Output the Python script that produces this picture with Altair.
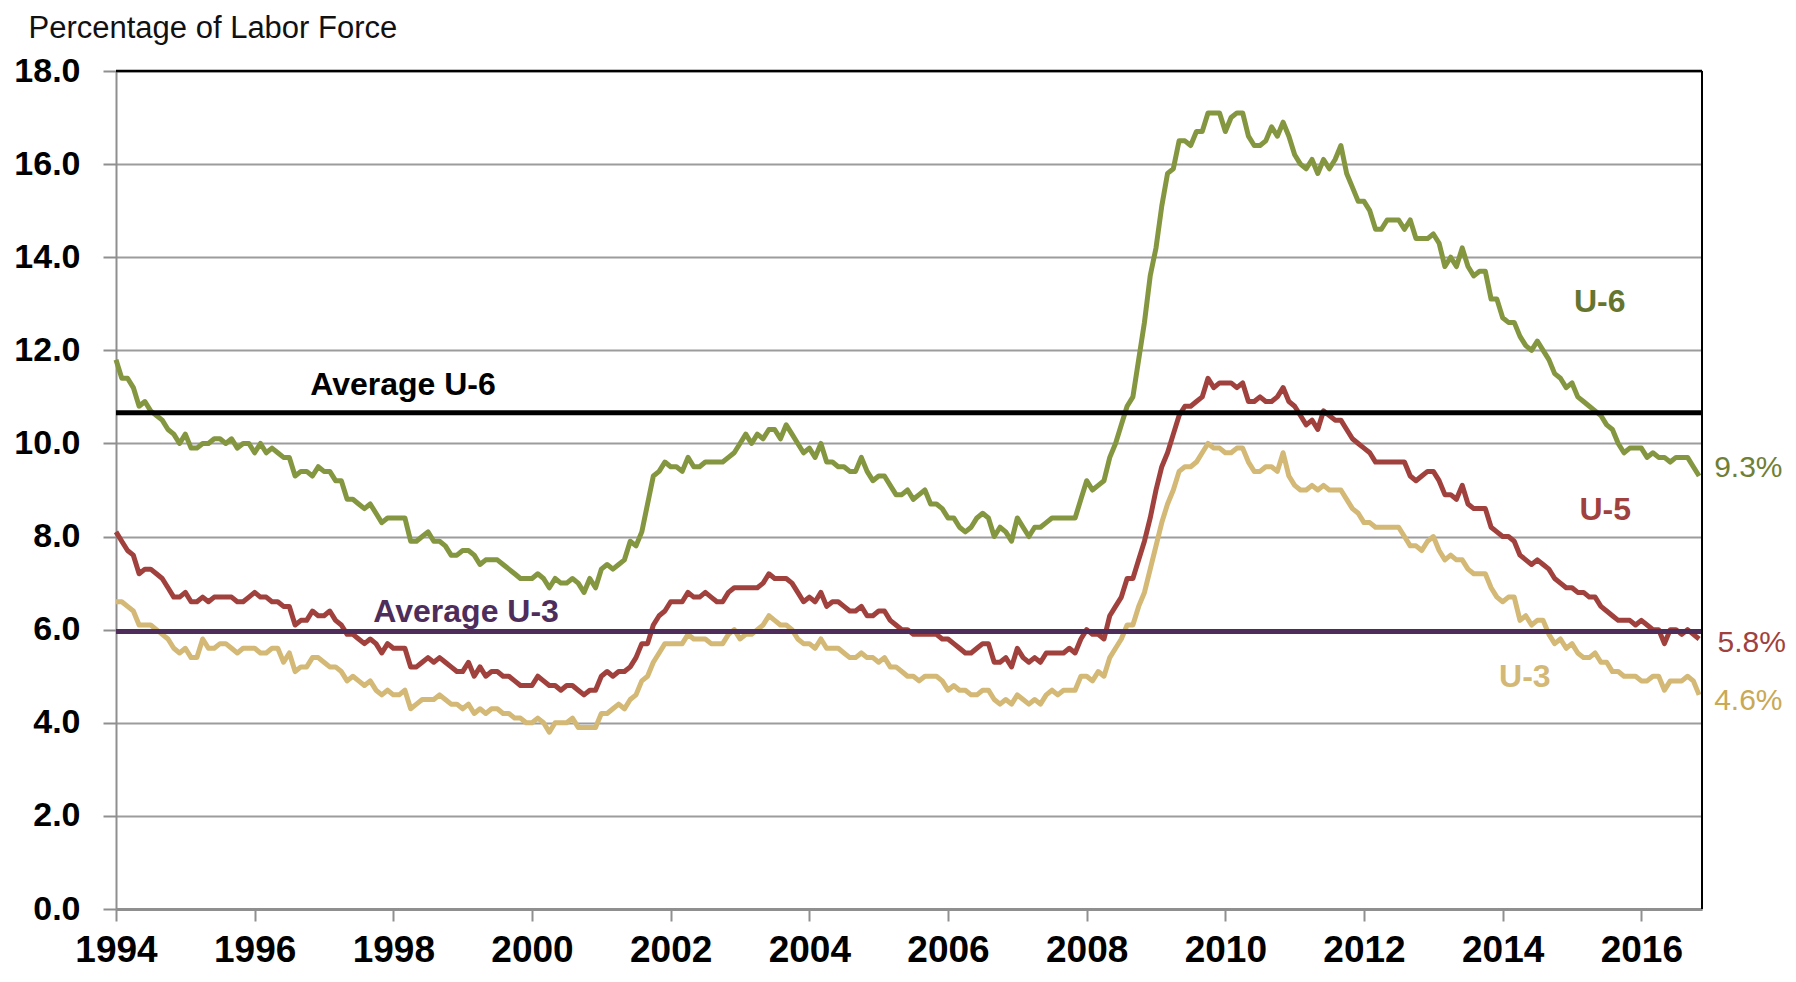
import altair as alt
import pandas as pd

# ---------------- data (monthly, Jan 1994 - Nov 2016) ----------------
U3 = [
    6.6,6.6,6.5,6.4,6.1,6.1,6.1,6.0,5.9,5.8,5.6,5.5,
    5.6,5.4,5.4,5.8,5.6,5.6,5.7,5.7,5.6,5.5,5.6,5.6,
    5.6,5.5,5.5,5.6,5.6,5.3,5.5,5.1,5.2,5.2,5.4,5.4,
    5.3,5.2,5.2,5.1,4.9,5.0,4.9,4.8,4.9,4.7,4.6,4.7,
    4.6,4.6,4.7,4.3,4.4,4.5,4.5,4.5,4.6,4.5,4.4,4.4,
    4.3,4.4,4.2,4.3,4.2,4.3,4.3,4.2,4.2,4.1,4.1,4.0,
    4.0,4.1,4.0,3.8,4.0,4.0,4.0,4.1,3.9,3.9,3.9,3.9,
    4.2,4.2,4.3,4.4,4.3,4.5,4.6,4.9,5.0,5.3,5.5,5.7,
    5.7,5.7,5.7,5.9,5.8,5.8,5.8,5.7,5.7,5.7,5.9,6.0,
    5.8,5.9,5.9,6.0,6.1,6.3,6.2,6.1,6.1,6.0,5.8,5.7,
    5.7,5.6,5.8,5.6,5.6,5.6,5.5,5.4,5.4,5.5,5.4,5.4,
    5.3,5.4,5.2,5.2,5.1,5.0,5.0,4.9,5.0,5.0,5.0,4.9,
    4.7,4.8,4.7,4.7,4.6,4.6,4.7,4.7,4.5,4.4,4.5,4.4,
    4.6,4.5,4.4,4.5,4.4,4.6,4.7,4.6,4.7,4.7,4.7,5.0,
    5.0,4.9,5.1,5.0,5.4,5.6,5.8,6.1,6.1,6.5,6.8,7.3,
    7.8,8.3,8.7,9.0,9.4,9.5,9.5,9.6,9.8,10.0,9.9,9.9,
    9.8,9.8,9.9,9.9,9.6,9.4,9.4,9.5,9.5,9.4,9.8,9.3,
    9.1,9.0,9.0,9.1,9.0,9.1,9.0,9.0,9.0,8.8,8.6,8.5,
    8.3,8.3,8.2,8.2,8.2,8.2,8.2,8.0,7.8,7.8,7.7,7.9,
    8.0,7.7,7.5,7.6,7.5,7.5,7.3,7.2,7.2,7.2,6.9,6.7,
    6.6,6.7,6.7,6.2,6.3,6.1,6.2,6.2,5.9,5.7,5.8,5.6,
    5.7,5.5,5.4,5.4,5.5,5.3,5.3,5.1,5.1,5.0,5.0,5.0,
    4.9,4.9,5.0,5.0,4.7,4.9,4.9,4.9,5.0,4.9,4.6,
]
U5 = [
    8.1,7.9,7.7,7.6,7.2,7.3,7.3,7.2,7.1,6.9,6.7,6.7,
    6.8,6.6,6.6,6.7,6.6,6.7,6.7,6.7,6.7,6.6,6.6,6.7,
    6.8,6.7,6.7,6.6,6.6,6.5,6.5,6.1,6.2,6.2,6.4,6.3,
    6.3,6.4,6.2,6.1,5.9,5.9,5.8,5.7,5.8,5.7,5.5,5.7,
    5.6,5.6,5.6,5.2,5.2,5.3,5.4,5.3,5.4,5.3,5.2,5.1,
    5.1,5.3,5.0,5.2,5.0,5.1,5.1,5.0,5.0,4.9,4.8,4.8,
    4.8,5.0,4.9,4.8,4.8,4.7,4.8,4.8,4.7,4.6,4.7,4.7,
    5.0,5.1,5.0,5.1,5.1,5.2,5.4,5.7,5.7,6.1,6.3,6.4,
    6.6,6.6,6.6,6.8,6.7,6.7,6.8,6.7,6.6,6.6,6.8,6.9,
    6.9,6.9,6.9,6.9,7.0,7.2,7.1,7.1,7.1,7.0,6.8,6.6,
    6.7,6.6,6.8,6.5,6.6,6.6,6.5,6.4,6.4,6.5,6.3,6.3,
    6.4,6.4,6.2,6.1,6.0,6.0,5.9,5.9,5.9,5.9,5.9,5.8,
    5.8,5.7,5.6,5.5,5.5,5.6,5.7,5.7,5.3,5.3,5.4,5.2,
    5.6,5.4,5.3,5.4,5.3,5.5,5.5,5.5,5.5,5.6,5.5,5.8,
    6.0,5.9,5.9,5.8,6.3,6.5,6.7,7.1,7.1,7.5,7.9,8.4,
    9.0,9.5,9.8,10.2,10.6,10.8,10.8,10.9,11.0,11.4,11.2,11.3,
    11.3,11.3,11.2,11.3,10.9,10.9,11.0,10.9,10.9,11.0,11.2,10.9,
    10.8,10.6,10.4,10.5,10.3,10.7,10.6,10.5,10.5,10.3,10.1,10.0,
    9.9,9.8,9.6,9.6,9.6,9.6,9.6,9.6,9.3,9.2,9.3,9.4,
    9.4,9.2,8.9,8.9,8.8,9.1,8.7,8.6,8.6,8.6,8.2,8.1,
    8.0,8.0,7.9,7.6,7.5,7.4,7.5,7.4,7.3,7.1,7.0,6.9,
    6.9,6.8,6.8,6.7,6.7,6.5,6.4,6.3,6.2,6.2,6.2,6.1,
    6.2,6.1,6.0,6.0,5.7,6.0,6.0,5.9,6.0,5.9,5.8,
]
U6 = [
    11.8,11.4,11.4,11.2,10.8,10.9,10.7,10.6,10.5,10.3,10.2,10.0,
    10.2,9.9,9.9,10.0,10.0,10.1,10.1,10.0,10.1,9.9,10.0,10.0,
    9.8,10.0,9.8,9.9,9.8,9.7,9.7,9.3,9.4,9.4,9.3,9.5,
    9.4,9.4,9.2,9.2,8.8,8.8,8.7,8.6,8.7,8.5,8.3,8.4,
    8.4,8.4,8.4,7.9,7.9,8.0,8.1,7.9,7.9,7.8,7.6,7.6,
    7.7,7.7,7.6,7.4,7.5,7.5,7.5,7.4,7.3,7.2,7.1,7.1,
    7.1,7.2,7.1,6.9,7.1,7.0,7.0,7.1,7.0,6.8,7.1,6.9,
    7.3,7.4,7.3,7.4,7.5,7.9,7.8,8.1,8.7,9.3,9.4,9.6,
    9.5,9.5,9.4,9.7,9.5,9.5,9.6,9.6,9.6,9.6,9.7,9.8,
    10.0,10.2,10.0,10.2,10.1,10.3,10.3,10.1,10.4,10.2,10.0,9.8,
    9.9,9.7,10.0,9.6,9.6,9.5,9.5,9.4,9.4,9.7,9.4,9.2,
    9.3,9.3,9.1,8.9,8.9,9.0,8.8,8.9,9.0,8.7,8.7,8.6,
    8.4,8.4,8.2,8.1,8.2,8.4,8.5,8.4,8.0,8.2,8.1,7.9,
    8.4,8.2,8.0,8.2,8.2,8.3,8.4,8.4,8.4,8.4,8.4,8.8,
    9.2,9.0,9.1,9.2,9.7,10.0,10.4,10.8,11.0,11.8,12.6,13.6,
    14.2,15.1,15.8,15.9,16.5,16.5,16.4,16.7,16.7,17.1,17.1,17.1,
    16.7,17.0,17.1,17.1,16.6,16.4,16.4,16.5,16.8,16.6,16.9,16.6,
    16.2,16.0,15.9,16.1,15.8,16.1,15.9,16.1,16.4,15.8,15.5,15.2,
    15.2,15.0,14.6,14.6,14.8,14.8,14.8,14.6,14.8,14.4,14.4,14.4,
    14.5,14.3,13.8,14.0,13.8,14.2,13.8,13.6,13.7,13.7,13.1,13.1,
    12.7,12.6,12.6,12.3,12.1,12.0,12.2,12.0,11.8,11.5,11.4,11.2,
    11.3,11.0,10.9,10.8,10.7,10.6,10.4,10.3,10.0,9.8,9.9,9.9,
    9.9,9.7,9.8,9.7,9.7,9.6,9.7,9.7,9.7,9.5,9.3,
]
AVG_U6 = 10.66
AVG_U3 = 5.96
YEAR_TICKS = list(range(1994, 2017, 2))
Y_TICKS = list(range(0, 19, 2))
SERIES = ["U-6", "U-5", "U-3"]

# ---------------- styling ----------------
FONT = "Liberation Sans, Arial, sans-serif"
LINE_COLORS = {"U-6": "#84963F", "U-5": "#A0413D", "U-3": "#D3B876"}
X_MIN, X_MAX = 1994, 2016.875
GRAY = "#8f8f8f"

dates = pd.date_range("1994-01-01", periods=len(U3), freq="MS")
t = [d.year + (d.month - 1) / 12 for d in dates]
df = pd.concat([
    pd.DataFrame({"t": t, "v": U6, "s": "U-6"}),
    pd.DataFrame({"t": t, "v": U5, "s": "U-5"}),
    pd.DataFrame({"t": t, "v": U3, "s": "U-3"}),
])

x_enc = alt.X("t:Q",
    scale=alt.Scale(domain=[X_MIN, X_MAX], nice=False, zero=False),
    axis=alt.Axis(values=YEAR_TICKS, format="d", title=None, grid=False,
                  labelFont=FONT, labelFontSize=37, labelFontWeight="bold",
                  labelColor="black", labelPadding=40, labelBaseline="alphabetic",
                  labelFlush=False,
                  tickSize=12, tickColor=GRAY, tickWidth=2,
                  domainColor=GRAY, domainWidth=3))
y_enc = alt.Y("v:Q",
    scale=alt.Scale(domain=[0, 18], nice=False),
    axis=alt.Axis(values=Y_TICKS, format=".1f",
                  labelFont=FONT, labelFontSize=34, labelFontWeight="bold",
                  labelColor="black", labelPadding=23,
                  tickSize=13, tickColor=GRAY, tickWidth=2,
                  domainColor=GRAY, domainWidth=2,
                  grid=True, gridColor="#9c9c9c", gridWidth=2,
                  title="Percentage of Labor Force", titleAngle=0,
                  titleX=-88, titleY=-34, titleAlign="left",
                  titleBaseline="alphabetic", titleFont=FONT,
                  titleFontSize=31, titleFontWeight="normal",
                  titleColor="#111111"))

lines = alt.Chart(df).mark_line(strokeWidth=5, strokeJoin="round").encode(
    x=x_enc, y=y_enc,
    color=alt.Color("s:N", scale=alt.Scale(domain=SERIES,
                    range=[LINE_COLORS[s] for s in SERIES]), legend=None),
    order=alt.Order("t:Q"),
)

anchor = alt.Chart(pd.DataFrame({"a": [0]}))
top_rule = anchor.mark_rule(color="black", strokeWidth=2.5).encode(y=alt.datum(18))
right_rule = anchor.mark_rule(color="black", strokeWidth=2).encode(x=alt.datum(X_MAX))
avg6 = anchor.mark_rule(color="black", strokeWidth=5).encode(y=alt.datum(AVG_U6))
avg3 = anchor.mark_rule(color="#4E2D5B", strokeWidth=5).encode(y=alt.datum(AVG_U3))

LABELS = [
    # text, x (year), y (value), colour, weight, align, size
    ("Average U-6", 1998.14, 11.04, "black", "bold", "center", 32),
    ("Average U-3", 1999.05, 6.16, "#4E2D5B", "bold", "center", 32),
    ("U-6", 2015.40, 12.82, "#65752F", "bold", "center", 32),
    ("U-5", 2015.48, 8.35, "#A0413D", "bold", "center", 32),
    ("U-3", 2014.32, 4.77, "#D3B876", "bold", "center", 32),
    ("9.3%", 2017.05, 9.28, "#6F7F35", "normal", "left", 30),
    ("5.8%", 2017.10, 5.52, "#A0413D", "normal", "left", 30),
    ("4.6%", 2017.05, 4.27, "#C9A955", "normal", "left", 30),
]
texts = [
    anchor.mark_text(text=txt, color=col, fontWeight=w, align=al,
                     baseline="alphabetic", font=FONT, fontSize=sz).encode(
        x=alt.datum(xx), y=alt.datum(yy))
    for txt, xx, yy, col, w, al, sz in LABELS
]

chart = alt.layer(lines, avg6, avg3, top_rule, right_rule, *texts).properties(
    width=1586, height=838,
    autosize=alt.AutoSizeParams(type="none"),
    padding={"left": 108, "top": 63, "right": 84, "bottom": 60},
    background="white",
).configure_view(stroke=None)

chart.save("out.html", embed_options={"renderer": "svg", "actions": False})
